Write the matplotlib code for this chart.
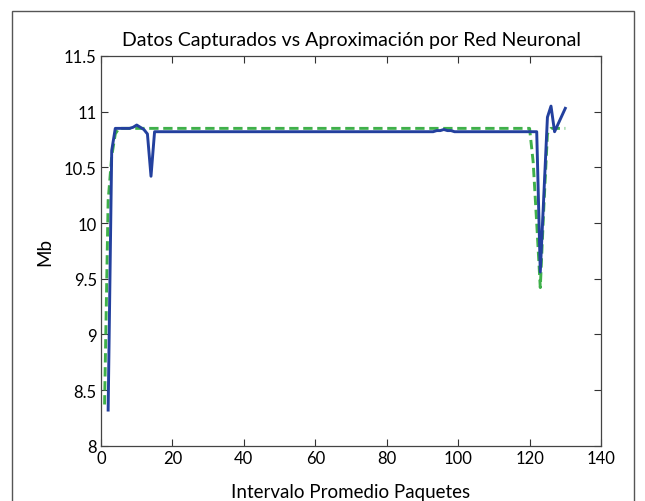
import numpy as np
import matplotlib.pyplot as plt
from matplotlib.patches import Rectangle

plt.rcParams['font.family'] = ['Lato', 'DejaVu Sans']

# datos capturados (azul)
x_datos = list(range(2, 131))
y_datos = ([8.32, 10.65, 10.85, 10.85, 10.85, 10.85, 10.85, 10.86, 10.88, 10.86,
            10.84, 10.80, 10.42, 10.82]
           + [10.82] * 78 + [10.83, 10.83, 10.84, 10.83, 10.83, 10.82] + [10.82] * 23
           + [9.56, 10.25, 10.95, 11.05, 10.82, 10.89, 10.96, 11.03])

# aproximacion red neuronal (verde)
x_red = list(range(1, 131))
y_red = ([8.37, 10.2, 10.6, 10.8, 10.85] + [10.85] * 115
         + [10.55, 10.0, 9.42, 10.15, 10.8, 10.85, 10.85, 10.85, 10.85, 10.85])

fig = plt.figure(figsize=(6.45, 5.02), dpi=100)
ax = fig.add_axes([101 / 645, 1 - 446.7 / 502, 500 / 645, 389.7 / 502])

ax.plot(x_datos, y_datos, color='#23409e', lw=2.1, zorder=3)
ax.plot(x_red, y_red, color='#3fb04a', lw=2.1, ls=(0, (3.2, 1.6)), zorder=2)

ax.set_xlim(0, 140)
ax.set_ylim(8, 11.5)
ax.set_xticks(np.arange(0, 141, 20))
ax.set_yticks([8, 8.5, 9, 9.5, 10, 10.5, 11, 11.5])
ax.set_yticklabels(['8', '8.5', '9', '9.5', '10', '10.5', '11', '11.5'])
ax.tick_params(direction='in', top=True, right=True, length=5, width=0.8,
               labelsize=12, color='#333333', pad=3)
for s in ax.spines.values():
    s.set_color('#444444')
    s.set_linewidth(0.9)

ax.set_title('Datos Capturados vs Aproximación por Red Neuronal', fontsize=14, pad=8)
ax.set_xlabel('Intervalo Promedio Paquetes', fontsize=13.5, labelpad=12)
ax.set_ylabel('Mb', fontsize=13.5, labelpad=8)

# marco exterior
fig.patches.append(Rectangle((12 / 645, -0.05), 622 / 645, 1.05 - 12 / 502,
                             transform=fig.transFigure, fill=False,
                             edgecolor='#555555', lw=1.0))

fig.savefig('out.png', dpi=100)
